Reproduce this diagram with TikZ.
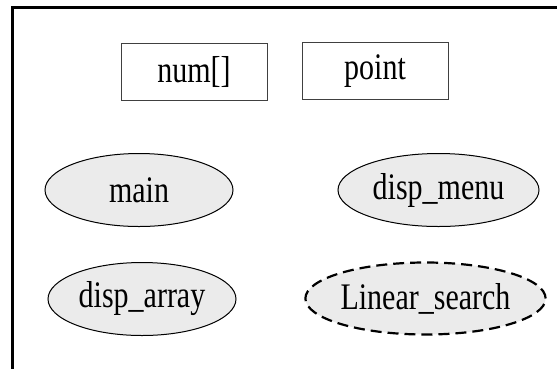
\documentclass[tikz,border=0pt]{standalone}
\usepackage{fontspec}
\setmainfont{Liberation Serif}
\usetikzlibrary{shapes.geometric}
\newcommand{\lbltext}[1]{\scalebox{1}[1.25]{\fontsize{30}{31}\selectfont #1}}
\begin{document}
\begin{tikzpicture}[x=1pt,y=-1pt,
  varbox/.style={draw=black!75,line width=1pt,minimum width=146pt,minimum height=57pt,inner sep=0pt},
  func/.style={ellipse,draw=black,line width=1pt,fill=black!8,inner sep=0pt},
  dfunc/.style={func,dash pattern=on 11pt off 6pt,line width=2.2pt}]
\useasboundingbox (0,0) rectangle (557,368);
\draw[line width=2.6pt] (12.5,380) -- (12.5,7.7) -- (570,7.7);
\node[varbox] (num) at (194,72) {\lbltext{num[]}};
\node[varbox] (point) at (375,71) {\lbltext{point}};
\node[func,minimum width=188pt,minimum height=73pt] (main) at (139,190) {\lbltext{main}};
\node[func,minimum width=201pt,minimum height=73pt] (menu) at (438.5,190) {\lbltext{disp\_menu}};
\node[func,minimum width=188pt,minimum height=73pt] (arr) at (142,299) {\lbltext{disp\_array}};
\node[dfunc,minimum width=226pt,minimum height=72pt] (lin) at (425.5,298.5) {\lbltext{Linear\_search}};
\end{tikzpicture}
\end{document}
